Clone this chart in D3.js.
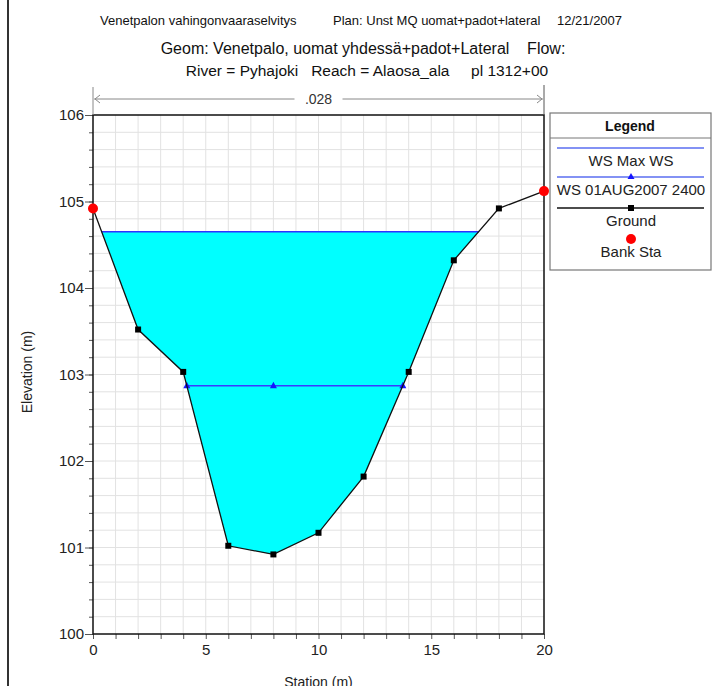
<!DOCTYPE html>
<html>
<head>
<meta charset="utf-8">
<script src="https://cdn.jsdelivr.net/npm/d3@7"></script>
<style>
body { margin: 0; background: #fff; }
svg { font-family: "Liberation Sans", Arial, sans-serif; display: block; }
text { white-space: pre; }
</style>
</head>
<body>
<div id="chart"></div>
<script>
(function() {

// data
var stations = [0, 2, 4, 6, 8, 10, 12, 14, 16, 18, 20];
var ground = [104.92, 103.52, 103.03, 101.02, 100.92, 101.17, 101.82, 103.03, 104.32, 104.92, 105.12];
var wsMax = 104.65;
var wsAug = 102.87;
var wsAugMarkers = [4.16, 8, 13.74];
var bankSta = [0, 20];
var manningN = [{from: 0, to: 20, n: ".028"}];
var xTicks = [0, 5, 10, 15, 20];
var yTicks = [100, 101, 102, 103, 104, 105, 106];
var titleParts = ["Venetpalon vahingonvaaraselvitys", "Plan: Unst MQ uomat+padot+lateral", "12/21/2007"];
var titles = [
  "Geom: Venetpalo, uomat yhdessä+padot+Lateral    Flow:",
  "River = Pyhajoki   Reach = Alaosa_ala     pl 1312+00"
];
var legendItems = ["WS Max WS", "WS 01AUG2007 2400", "Ground", "Bank Sta"];

var margin = {top: 115, right: 172, bottom: 52, left: 93},
    width = 716 - margin.left - margin.right,
    height = 686 - margin.top - margin.bottom;

var x = d3.scaleLinear().domain([0, 20]).range([0, width]);
var y = d3.scaleLinear().domain([100, 106]).range([height, 0]);

var root = d3.select("#chart").append("svg")
    .attr("width", 716)
    .attr("height", 686);

// page frame line on the left
root.append("line")
  .attr("x1", 8).attr("x2", 8).attr("y1", 0).attr("y2", 686)
  .style("stroke", "#333").style("stroke-width", 2);

// titles
var partX = [100, 333, 557];
titleParts.forEach(function(t, i) {
  root.append("text").attr("x", partX[i]).attr("y", 25)
    .style("font-size", "13px").style("fill", "#111").text(t);
});
root.append("text").attr("x", 363).attr("y", 54).attr("text-anchor", "middle")
  .style("font-size", "16px").style("fill", "#111").text(titles[0]);
root.append("text").attr("x", 367).attr("y", 76).attr("text-anchor", "middle")
  .style("font-size", "15.5px").style("fill", "#111").text(titles[1]);

var svg = root.append("g")
    .attr("transform", "translate(" + margin.left + "," + margin.top + ")");

// grid
svg.append("g").selectAll("line")
  .data(d3.range(1, 20))
  .enter().append("line")
    .attr("x1", function(d) { return x(d); })
    .attr("x2", function(d) { return x(d); })
    .attr("y1", 0).attr("y2", height)
    .style("stroke", "#e2e2e2").style("stroke-width", 1);

svg.append("g").selectAll("line")
  .data(d3.range(1, 30).map(function(i) { return 100 + i * 0.2; }))
  .enter().append("line")
    .attr("x1", 0).attr("x2", width)
    .attr("y1", function(d) { return y(d); })
    .attr("y2", function(d) { return y(d); })
    .style("stroke", "#e2e2e2").style("stroke-width", 1);

// water fill below WS Max, clipped by ground
function crossings(level) {
  var pts = [];
  for (var i = 0; i < stations.length - 1; i++) {
    var g0 = ground[i], g1 = ground[i + 1];
    if ((g0 - level) * (g1 - level) < 0) {
      pts.push(stations[i] + (level - g0) / (g1 - g0) * (stations[i + 1] - stations[i]));
    }
  }
  return pts;
}

var cx = crossings(wsMax);
var poly = [[cx[0], wsMax]];
stations.forEach(function(s, i) {
  if (s > cx[0] && s < cx[cx.length - 1]) poly.push([s, ground[i]]);
});
poly.push([cx[cx.length - 1], wsMax]);

svg.append("path")
  .datum(poly)
  .attr("d", d3.line().x(function(d) { return x(d[0]); }).y(function(d) { return y(d[1]); }))
  .style("fill", "#00ffff")
  .style("stroke", "none");

// WS Max line
svg.append("line")
  .attr("x1", x(cx[0])).attr("x2", x(cx[cx.length - 1]))
  .attr("y1", y(wsMax)).attr("y2", y(wsMax))
  .style("stroke", "#3030ff").style("stroke-width", 1.5);

// WS 01AUG line
svg.append("line")
  .attr("x1", x(wsAugMarkers[0])).attr("x2", x(wsAugMarkers[wsAugMarkers.length - 1]))
  .attr("y1", y(wsAug)).attr("y2", y(wsAug))
  .style("stroke", "#3a3aff").style("stroke-width", 1.5);

svg.selectAll(".tri")
  .data(wsAugMarkers)
  .enter().append("path")
    .attr("class", "tri")
    .attr("transform", function(d) { return "translate(" + x(d) + "," + y(wsAug) + ")"; })
    .attr("d", "M0,-4L3.5,2.5L-3.5,2.5Z")
    .style("fill", "#1515ff");

// ground
svg.append("path")
  .datum(stations.map(function(s, i) { return [s, ground[i]]; }))
  .attr("d", d3.line().x(function(d) { return x(d[0]); }).y(function(d) { return y(d[1]); }))
  .style("fill", "none")
  .style("stroke", "#111")
  .style("stroke-width", 1.3);

svg.selectAll(".sq")
  .data(stations.map(function(s, i) { return [s, ground[i]]; }))
  .enter().append("rect")
    .attr("class", "sq")
    .attr("x", function(d) { return x(d[0]) - 3; })
    .attr("y", function(d) { return y(d[1]) - 3; })
    .attr("width", 6).attr("height", 6)
    .style("fill", "#000");

// axes
var xAxis = svg.append("g")
  .attr("transform", "translate(0," + height + ")")
  .call(d3.axisBottom(x).tickValues(d3.range(0, 21)).tickSize(5).tickFormat(""));
xAxis.selectAll(".domain").remove();
xAxis.selectAll("line").style("stroke", "#555");
svg.append("g")
  .attr("transform", "translate(0," + height + ")")
  .call(d3.axisBottom(x).tickValues(xTicks).tickSize(0).tickPadding(10))
  .call(function(g) {
    g.selectAll(".domain").remove();
    g.selectAll("text").style("font-size", "15px").style("fill", "#222")
      .style("font-family", "Liberation Sans, Arial, sans-serif");
  });

var yAxis = svg.append("g")
  .call(d3.axisLeft(y).tickValues(d3.range(0, 31).map(function(i) { return 100 + i * 0.2; }))
    .tickSize(4).tickFormat(""));
yAxis.selectAll(".domain").remove();
yAxis.selectAll("line").style("stroke", "#555");
svg.append("g")
  .call(d3.axisLeft(y).tickValues(yTicks).tickSize(8).tickPadding(1).tickFormat(d3.format("d")))
  .call(function(g) {
    g.selectAll(".domain").remove();
    g.selectAll("line").style("stroke", "#555");
    g.selectAll("text").style("font-size", "15px").style("fill", "#222")
      .style("font-family", "Liberation Sans, Arial, sans-serif");
  });

// plot border
svg.append("rect")
  .attr("width", width).attr("height", height)
  .style("fill", "none").style("stroke", "#111").style("stroke-width", 1.5);

// bank stations
svg.selectAll(".bank")
  .data(bankSta)
  .enter().append("circle")
    .attr("class", "bank")
    .attr("cx", function(d) { return x(d); })
    .attr("cy", function(d) { return y(ground[stations.indexOf(d)]); })
    .attr("r", 5)
    .style("fill", "#ff0000");

// manning n arrows
manningN.forEach(function(m) {
  var x0 = x(m.from), x1 = x(m.to), yy = -16, mid = (x0 + x1) / 2;
  var g = svg.append("g").style("stroke", "#888").style("fill", "none");
  g.append("line").attr("x1", x0).attr("x2", x0).attr("y1", -28).attr("y2", 0);
  g.append("line").attr("x1", x1).attr("x2", x1).attr("y1", -30).attr("y2", 0).style("stroke", "#555");
  g.append("line").attr("x1", x0 + 1).attr("x2", mid - 24).attr("y1", yy).attr("y2", yy);
  g.append("line").attr("x1", mid + 24).attr("x2", x1 - 1).attr("y1", yy).attr("y2", yy);
  g.append("path").attr("d", "M" + (x0 + 7) + "," + (yy - 4) + "L" + (x0 + 2) + "," + yy + "L" + (x0 + 7) + "," + (yy + 4));
  g.append("path").attr("d", "M" + (x1 - 7) + "," + (yy - 4) + "L" + (x1 - 2) + "," + yy + "L" + (x1 - 7) + "," + (yy + 4));
  svg.append("text").attr("x", mid).attr("y", yy + 5).attr("text-anchor", "middle")
    .style("font-size", "14px").style("fill", "#333").text(m.n);
});

// axis titles
svg.append("text")
  .attr("x", width / 2).attr("y", height + 53)
  .attr("text-anchor", "middle")
  .style("font-size", "14px").style("fill", "#222")
  .text("Station (m)");

svg.append("text")
  .attr("transform", "translate(-61," + (372 - margin.top) + ") rotate(-90)")
  .attr("text-anchor", "middle")
  .style("font-size", "14px").style("fill", "#222")
  .text("Elevation (m)");

// legend
var lg = root.append("g").attr("transform", "translate(550,113)");
lg.append("rect").attr("width", 161).attr("height", 157)
  .style("fill", "#fff").style("stroke", "#777").style("stroke-width", 1.2);
lg.append("line").attr("x1", 0).attr("x2", 161).attr("y1", 25).attr("y2", 25)
  .style("stroke", "#777");
lg.append("text").attr("x", 80).attr("y", 18).attr("text-anchor", "middle")
  .style("font-size", "14px").style("font-weight", "bold").style("fill", "#111").text("Legend");

var rowY = [35, 64, 95, 126];
legendItems.forEach(function(name, i) {
  var ly = rowY[i];
  if (i === 0) {
    lg.append("line").attr("x1", 7).attr("x2", 154).attr("y1", ly).attr("y2", ly)
      .style("stroke", "#5a6ef0").style("stroke-width", 1.5);
  } else if (i === 1) {
    lg.append("line").attr("x1", 7).attr("x2", 154).attr("y1", ly).attr("y2", ly)
      .style("stroke", "#5a6ef0").style("stroke-width", 1.5);
    lg.append("path").attr("transform", "translate(81," + ly + ")")
      .attr("d", "M0,-4L3.5,2L-3.5,2Z").style("fill", "#1515ff");
  } else if (i === 2) {
    lg.append("line").attr("x1", 7).attr("x2", 154).attr("y1", ly).attr("y2", ly)
      .style("stroke", "#111").style("stroke-width", 1.3);
    lg.append("rect").attr("x", 78).attr("y", ly - 3).attr("width", 6).attr("height", 6)
      .style("fill", "#000");
  } else {
    lg.append("circle").attr("cx", 81).attr("cy", ly).attr("r", 5).style("fill", "#ff0000");
  }
  lg.append("text").attr("x", 81).attr("y", ly + 18).attr("text-anchor", "middle")
    .style("font-size", "15px").style("fill", "#222").text(name);
});

})()
</script>
</body>
</html>
